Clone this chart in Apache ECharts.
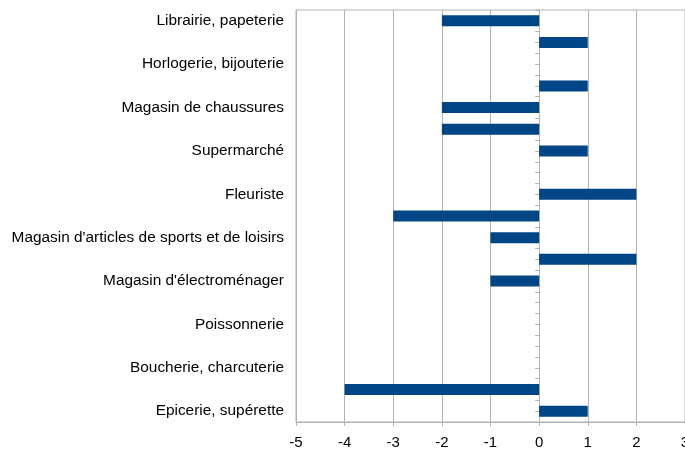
<!DOCTYPE html>
<html>
<head>
<meta charset="utf-8">
<script src="https://cdn.jsdelivr.net/npm/echarts@6/dist/echarts.min.js"></script>
<style>html,body{margin:0;padding:0;background:#fff;}#c{width:685px;height:454px;}</style>
</head>
<body>
<div id="c"></div>
<script>
var categories = [
  "Librairie, papeterie",
  "Magasin de vêtements",
  "Horlogerie, bijouterie",
  "Parfumerie",
  "Magasin de chaussures",
  "Magasin de jouets",
  "Supermarché",
  "Hypermarché",
  "Fleuriste",
  "Pharmacie",
  "Magasin d'articles de sports et de loisirs",
  "Quincaillerie",
  "Magasin d'électroménager",
  "Magasin de meubles",
  "Poissonnerie",
  "Boulangerie, pâtisserie",
  "Boucherie, charcuterie",
  "Primeur",
  "Epicerie, supérette"
];
var values = [-2, 1, 0, 1, -2, -2, 1, 0, 2, -3, -1, 2, -1, 0, 0, 0, 0, -4, 1];
var xMin = -5, xMax = 3, xStep = 1;

var gridColor = '#b3b3b3';
var chart = echarts.init(document.getElementById('c'), null, {renderer: 'canvas'});
chart.setOption({
  animation: false,
  grid: {left: 296, top: 10, right: 0, bottom: 32, show: true, borderColor: gridColor, borderWidth: 1,
         backgroundColor: 'transparent', containLabel: false, outerBoundsMode: 'none'},
  xAxis: [{
    type: 'value', min: xMin, max: xMax, interval: xStep,
    axisLine: {show: true, lineStyle: {color: gridColor, width: 1}},
    axisTick: {show: true, length: 4, lineStyle: {color: gridColor}},
    splitLine: {show: true, lineStyle: {color: gridColor, width: 1}},
    axisLabel: {color: '#000', fontSize: 15, fontFamily: 'Liberation Sans', margin: 13, showMaxLabel: true, showMinLabel: true}
  }],
  yAxis: [{
    type: 'category', inverse: true, data: categories,
    axisLine: {show: false, onZero: false},
    axisTick: {show: false},
    splitLine: {show: false},
    axisLabel: {interval: 1, color: '#000', fontSize: 15.4, fontFamily: 'Liberation Sans', margin: 12}
  }, {
    type: 'category', inverse: true, data: categories, position: 'left',
    axisLine: {show: true, onZero: true, onZeroAxisIndex: 0, lineStyle: {color: gridColor, width: 1}},
    axisTick: {show: true, interval: 0, alignWithLabel: false, length: 4, lineStyle: {color: gridColor}},
    axisLabel: {show: false},
    splitLine: {show: false}
  }, {
    type: 'category', inverse: true, data: categories, position: 'left',
    axisLine: {show: false, onZero: true, onZeroAxisIndex: 0},
    axisTick: {show: true, interval: 0, alignWithLabel: true, length: 4, lineStyle: {color: gridColor}},
    axisLabel: {show: false},
    splitLine: {show: false}
  }],
  series: [{
    type: 'bar', xAxisIndex: 0, yAxisIndex: 0,
    data: values, barWidth: 11,
    itemStyle: {color: '#004586'}
  }]
});
</script>
</body>
</html>
